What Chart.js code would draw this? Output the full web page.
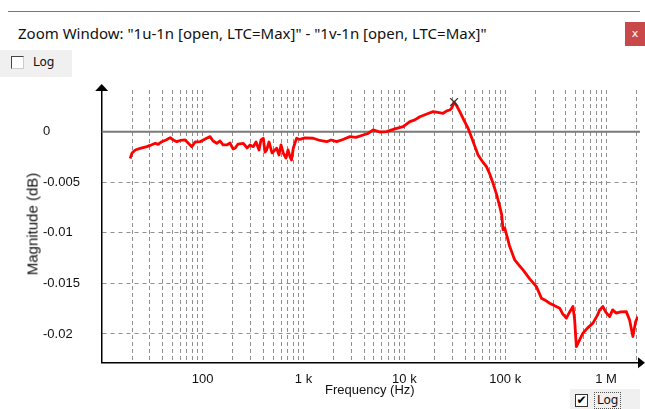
<!DOCTYPE html>
<html><head><meta charset="utf-8">
<script src="https://cdn.jsdelivr.net/npm/chart.js@4/dist/chart.umd.min.js"></script>
<style>
html,body{margin:0;padding:0;background:#fff;width:645px;height:409px;overflow:hidden;font-family:"Liberation Sans",Arial,sans-serif;}
#wrap{position:relative;width:645px;height:409px;}
#c{position:absolute;left:0;top:0;}
.topline{position:absolute;left:8px;top:11px;width:632px;height:1px;background:#777;}
#title{position:absolute;left:18px;top:22px;font-family:"Noto Sans","Open Sans",sans-serif;font-size:14px;color:#111;white-space:nowrap;line-height:22px;}
#close{position:absolute;left:625px;top:22px;width:20px;height:24px;background:#c9494b;color:#fff;font-size:11px;text-align:center;line-height:23px;font-family:"DejaVu Sans",sans-serif;}
.bg{position:absolute;background:#f0f0f0;}
.box{position:absolute;width:11px;height:11px;background:#fff;border:1px solid #444;border-right-color:#ccc;border-bottom-color:#ccc;}
.lbl{position:absolute;font-size:12px;color:#111;font-family:"DejaVu Sans",sans-serif;}
#ytitle{position:absolute;left:32px;top:224px;transform:translate(-50%,-50%) rotate(-90deg);font-size:15px;color:#111;white-space:nowrap;}
</style></head>
<body><div id="wrap">
<div class="topline"></div>
<div id="title">Zoom Window: "1u-1n [open, LTC=Max]" - "1v-1n [open, LTC=Max]"</div>
<div id="close">x</div>
<div class="bg" style="left:0;top:50px;width:72px;height:27px;"></div>
<div class="box" style="left:11px;top:56px;"></div>
<div class="lbl" style="left:33px;top:55px;">Log</div>
<div class="bg" style="left:570px;top:389px;width:70px;height:20px;"></div>
<div class="box" style="left:575px;top:394px;border-color:#333;font-size:12px;line-height:11px;text-align:center;font-family:'DejaVu Sans';">✔</div>
<div class="lbl" style="left:594px;top:392px;border:1px dotted #555;padding:0 2px;line-height:15px;">Log</div>
<canvas id="c" width="645" height="409"></canvas>
<div id="ytitle">Magnitude (dB)</div>
</div>
<script>
// ---- data ----
const freqs = [19.15,20.0,21.5,24.1,28.0,30.2,33.9,36.3,39.4,43.5,47.7,51.1,55.5,59.9,67.1,71.9,78.2,84.3,94.5,105.9,
  118.7,127.1,138.2,149.1,159.6,173.6,187.2,200.4,209.8,224.6,253.5,275.8,295.3,318.4,338.6,362.6,379.5,399.9,415.7,432.1,
  455.4,487.7,542.8,572.0,598.8,631.0,671.0,702.3,735.1,760.7,792.5,823.8,856.4,923.3,1035,1250,1457,1697,1873,2132,
  2461,2887,3311,3909,4351,4911,5720,6665,8053,9729,11336,12706,14240,16700,19280,21460,24230,26350,28220,29540,
  31130,33110,35440,38820,42810,46600,53790,59880,65150,70230,75720,82380,88220,92330,95110,98860,110800,124200,136100,150100,
  174800,203700,214700,228300,246100,275900,309200,346400,371000,403500,435200,469300,487700,507000,546500,589200,655900,740300,823800,862200,
  929600,988600,1083000,1160000,1262000,1392000,1585000,1709000,1842000,1959000,2065000];
const mags = [-0.00265,-0.00210,-0.00181,-0.00166,-0.00148,-0.00136,-0.00115,-0.00126,-0.00099,-0.00082,-0.00059,-0.00082,-0.00099,-0.00087,-0.00082,-0.00112,-0.00148,-0.00102,-0.00099,-0.00072,
  -0.00049,-0.00092,-0.00115,-0.00092,-0.00131,-0.00131,-0.00112,-0.00171,-0.00164,-0.00122,-0.00115,-0.00161,-0.00131,-0.00148,-0.00102,-0.00181,-0.00082,-0.00065,-0.00201,-0.00181,
  -0.00102,-0.00210,-0.00164,-0.00230,-0.00131,-0.00213,-0.00260,-0.00181,-0.00247,-0.00280,-0.00164,-0.00112,-0.00065,-0.00077,-0.00062,-0.00065,-0.00087,-0.00099,-0.00082,-0.00099,
  -0.00077,-0.00049,-0.00057,-0.00033,-0.00018,0.00017,-0.00003,0.00000,0.00027,0.00049,0.00099,0.00116,0.00148,0.00175,0.00198,0.00190,0.00182,0.00205,0.00214,0.00234,
  0.00293,0.00254,0.00198,0.00116,0.00034,-0.00062,-0.00230,-0.00299,-0.00346,-0.00418,-0.00510,-0.00625,-0.00741,-0.00823,-0.00971,-0.00952,-0.01136,-0.01268,-0.01317,-0.01367,
  -0.01456,-0.01532,-0.01584,-0.01646,-0.01663,-0.01696,-0.01722,-0.01745,-0.01801,-0.01844,-0.01782,-0.01729,-0.01861,-0.02125,-0.02058,-0.01992,-0.01940,-0.01893,-0.01811,-0.01762,
  -0.01729,-0.01782,-0.01828,-0.01762,-0.01794,-0.01782,-0.01779,-0.01861,-0.02026,-0.01880,-0.01828];
const peakFreq = [31130];
const peakMag = [0.00293];
const yTickValues = [0, -0.005, -0.01, -0.015, -0.02];
const yTickLabels = ['0', '-0.005', '-0.01', '-0.015', '-0.02'];
const xTickValues = [100, 1000, 10000, 100000, 1000000];
const xTickLabels = ['100', '1 k', '10 k', '100 k', '1 M'];

// grid positions: 2..9 x decade, plus decades
const xGrid = [];
for (let d = 10; d <= 1000000; d *= 10) {
  for (let m = (d === 10 ? 2 : 1); m <= 9; m++) {
    const v = m * d;
    if (v <= 2000000) xGrid.push(v);
  }
}
xGrid.push(2000000);

// fit title width to the picture
(function(){
  const t = document.getElementById('title');
  const w = t.getBoundingClientRect().width;
  t.style.fontSize = (14 * 469 / w) + 'px';
})();

const zeroLine = {
  id: 'zeroLine',
  beforeDatasetsDraw(chart) {
    const {ctx, chartArea, scales} = chart;
    const y = scales.y.getPixelForValue(0);
    ctx.save();
    ctx.strokeStyle = '#7a7a7a';
    ctx.lineWidth = 2;
    ctx.beginPath();
    ctx.moveTo(chartArea.left, y);
    ctx.lineTo(chartArea.right + 2, y);
    ctx.stroke();
    ctx.restore();
  }
};
const arrows = {
  id: 'arrows',
  afterDraw(chart) {
    const {ctx, chartArea} = chart;
    ctx.save();
    ctx.fillStyle = '#000';
    ctx.beginPath();
    ctx.moveTo(chartArea.left, chartArea.top - 6);
    ctx.lineTo(chartArea.left - 6.5, chartArea.top + 1);
    ctx.lineTo(chartArea.left + 6.5, chartArea.top + 1);
    ctx.closePath(); ctx.fill();
    ctx.beginPath();
    ctx.moveTo(chartArea.right + 7, chartArea.bottom);
    ctx.lineTo(chartArea.right, chartArea.bottom - 5.5);
    ctx.lineTo(chartArea.right, chartArea.bottom + 5.5);
    ctx.closePath(); ctx.fill();
    ctx.restore();
  }
};

const lineData = freqs.map((f, i) => ({x: f, y: mags[i]}));
const peakData = peakFreq.map((f, i) => ({x: f, y: peakMag[i]}));

new Chart(document.getElementById('c'), {
  type: 'line',
  data: {
    datasets: [
      {data: peakData, showLine: false, pointStyle: 'crossRot', pointRadius: 5.5, pointBorderColor: '#333', pointBorderWidth: 1.3, borderColor: '#333'},
      {data: lineData, borderColor: '#ff0000', borderWidth: 2.8, pointRadius: 0, tension: 0, fill: false, borderJoinStyle: 'round'}
    ]
  },
  options: {
    responsive: false,
    animation: false,
    devicePixelRatio: 1,
    layout: {padding: {left: 43, top: 90, right: 7, bottom: 0}},
    plugins: {legend: {display: false}, tooltip: {enabled: false}, title: {display: false}},
    scales: {
      x: {
        type: 'logarithmic',
        min: 10, max: 2070000,
        afterBuildTicks: s => { s.ticks = xGrid.map(v => ({value: v})); },
        afterFit: s => { s.height = 46.3; },
        ticks: {
          autoSkip: false, maxRotation: 0, minRotation: 0, padding: 8.5,
          color: '#111', font: {family: '"Liberation Sans", Arial, sans-serif', size: 13},
          callback: function(v) {
            const k = xTickValues.findIndex(t => Math.abs(t - v) / t < 1e-6);
            return k >= 0 ? xTickLabels[k] : '';
          }
        },
        grid: {color: '#8f8f8f', lineWidth: 1, drawTicks: false},
        border: {display: true, color: '#000', width: 1.5, dash: [4, 3]},
        title: {display: true, text: 'Frequency (Hz)', color: '#111', font: {family: '"Liberation Sans", Arial, sans-serif', size: 13}, padding: {top: 0, bottom: 11}}
      },
      y: {
        type: 'linear',
        min: -0.02284, max: 0.00412,
        afterBuildTicks: s => { s.ticks = yTickValues.map(v => ({value: v})); },
        afterFit: s => { s.width = 58.7; },
        ticks: {
          crossAlign: 'far', color: '#111', font: {family: '"Liberation Sans", Arial, sans-serif', size: 13},
          callback: function(v) {
            const k = yTickValues.findIndex(t => Math.abs(t - v) < 1e-9);
            return k >= 0 ? yTickLabels[k] : '';
          }
        },
        grid: {color: ctx => (ctx.tick && ctx.tick.value === 0) ? 'rgba(0,0,0,0)' : '#8f8f8f', lineWidth: 1, drawTicks: false},
        border: {display: true, color: '#000', width: 1.5, dash: [4, 4]}
      }
    }
  },
  plugins: [zeroLine, arrows]
});
</script>
</body></html>
